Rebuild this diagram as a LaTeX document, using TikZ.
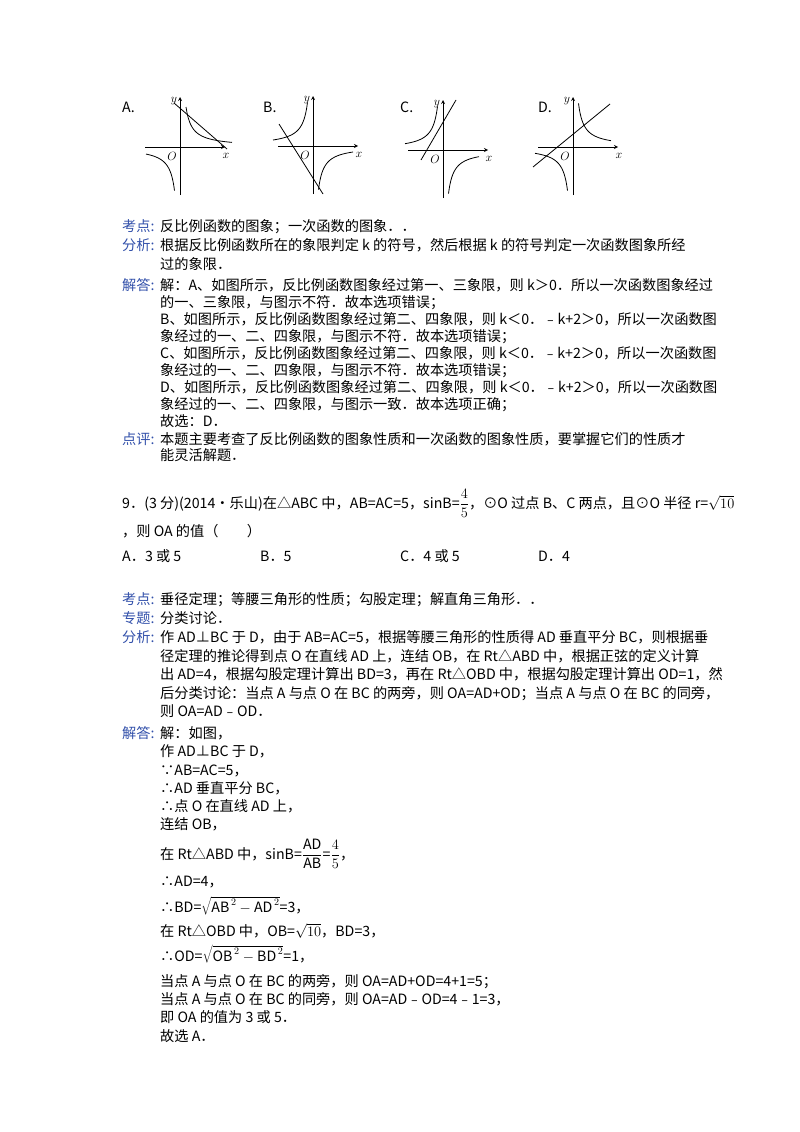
\documentclass[tikz,border=0pt]{standalone}
\usepackage{fontspec}
\setmainfont{Noto Sans CJK SC}
\definecolor{lab}{RGB}{50,80,170}
\begin{document}
\begin{tikzpicture}[x=1pt,y=-1pt,
 t/.style={anchor=base west,inner sep=0pt,font=\fontsize{14.2}{16}\selectfont},
 lb/.style={t,text=lab},
 ax/.style={line width=0.8pt,->,>=stealth},
 cv/.style={line width=0.8pt},
 gl/.style={font=\fontsize{13}{13}\selectfont,inner sep=0pt}]
\useasboundingbox (0,0) rectangle (800,1132);
% graphs
\foreach \n/\ox/\oy/\lx in {A/180/147/122,B/313/146/263,C/443/150/400,D/573/147/538}{
 \node[t] (L\n) at (\lx,112) {\n.};
 \begin{scope}[shift={(\ox,\oy)}]
 \draw[ax] (-35,0) -- (45,0);
 \node[gl] (x\n) at (46,9) {$x$};
 \draw[ax] (0,48) -- (0,-50);
 \node[gl] (y\n) at (-6,-46) {$y$};
 \node[gl] (o\n) at (-8,9) {$O$};
 \end{scope}}
\begin{scope}[shift={(180,147)}]
 \draw[cv] plot[domain=6:52,samples=40,smooth] (\x,{-240/\x});
 \draw[cv] plot[domain=-34:-5.5,samples=40,smooth] (\x,{-240/\x});
 \draw[cv] (-6,-44) -- (47,2);
\end{scope}
\begin{scope}[shift={(313,146)}]
 \draw[cv] plot[domain=-40:-5.5,samples=40,smooth] (\x,{240/\x});
 \draw[cv] plot[domain=5.5:40,samples=40,smooth] (\x,{240/\x});
 \draw[cv] (-34,-22) -- (10,48);
\end{scope}
\begin{scope}[shift={(443,150)}]
 \draw[cv] plot[domain=-38:-5.5,samples=40,smooth] (\x,{240/\x});
 \draw[cv] plot[domain=5.5:36,samples=40,smooth] (\x,{240/\x});
 \draw[cv] (-22,10) -- (13,-50);
\end{scope}
\begin{scope}[shift={(573,147)}]
 \draw[cv] plot[domain=5.5:38,samples=40,smooth] (\x,{-240/\x});
 \draw[cv] plot[domain=-38:-5.5,samples=40,smooth] (\x,{-240/\x});
 \draw[cv] (-40,20) -- (37,-43);
\end{scope}
% part 1
\node[lb] (k1) at (122,231) {考点:};
\node[t] at (160,231) {反比例函数的图象；一次函数的图象．．};
\node[lb] (f1) at (122,250) {分析:};
\node[t] at (160,250) {根据反比例函数所在的象限判定 k 的符号，然后根据 k 的符号判定一次函数图象所经};
\node[t] at (160,269) {过的象限．};
\node[lb] (j1) at (122,290) {解答:};
\node[t] at (160,290) {解：A、如图所示，反比例函数图象经过第一、三象限，则 k＞0．所以一次函数图象经过};
\node[t] at (160,307) {的一、三象限，与图示不符．故本选项错误；};
\node[t] at (160,324) {B、如图所示，反比例函数图象经过第二、四象限，则 k＜0．﹣k+2＞0，所以一次函数图};
\node[t] at (160,341) {象经过的一、二、四象限，与图示不符．故本选项错误；};
\node[t] at (160,358) {C、如图所示，反比例函数图象经过第二、四象限，则 k＜0．﹣k+2＞0，所以一次函数图};
\node[t] at (160,375) {象经过的一、二、四象限，与图示不符．故本选项错误；};
\node[t] at (160,392) {D、如图所示，反比例函数图象经过第二、四象限，则 k＜0．﹣k+2＞0，所以一次函数图};
\node[t] at (160,409) {象经过的一、二、四象限，与图示一致．故本选项正确；};
\node[t] at (160,426) {故选：D．};
\node[lb] at (122,444) {点评:};
\node[t] at (160,444) {本题主要考查了反比例函数的图象性质和一次函数的图象性质，要掌握它们的性质才};
\node[t] at (160,460) {能灵活解题．};
% question 9
\node[t] (q9) at (122,508) {9．(3 分)(2014•乐山)在△ABC 中，AB=AC=5，sinB=$\displaystyle\frac{4}{5}$，⊙O 过点 B、C 两点，且⊙O 半径 r=$\sqrt{10}$};
\node[t] at (122,536) {，则 OA 的值（\quad\quad）};
\node[t] at (122,561) {A．3 或 5};
\node[t] at (260,561) {B．5};
\node[t] at (400,561) {C．4 或 5};
\node[t] at (538,561) {D．4};
\node[lb] at (122,604) {考点:};
\node[t] at (160,604) {垂径定理；等腰三角形的性质；勾股定理；解直角三角形．．};
\node[lb] at (122,623) {专题:};
\node[t] at (160,623) {分类讨论．};
\node[lb] at (122,642) {分析:};
\node[t] at (160,642) {作 AD⊥BC 于 D，由于 AB=AC=5，根据等腰三角形的性质得 AD 垂直平分 BC，则根据垂};
\node[t] at (160,661) {径定理的推论得到点 O 在直线 AD 上，连结 OB，在 Rt△ABD 中，根据正弦的定义计算};
\node[t] at (160,679) {出 AD=4，根据勾股定理计算出 BD=3，再在 Rt△OBD 中，根据勾股定理计算出 OD=1，然};
\node[t] at (160,698) {后分类讨论：当点 A 与点 O 在 BC 的两旁，则 OA=AD+OD；当点 A 与点 O 在 BC 的同旁，};
\node[t] at (160,716) {则 OA=AD﹣OD．};
\node[lb] at (122,738) {解答:};
\node[t] at (160,738) {解：如图，};
\node[t] at (160,756) {作 AD⊥BC 于 D，};
\node[t] at (160,775) {∵AB=AC=5，};
\node[t] at (160,793) {∴AD 垂直平分 BC，};
\node[t] at (160,811) {∴点 O 在直线 AD 上，};
\node[t] at (160,829) {连结 OB，};
\node[t] at (160,859) {在 Rt△ABD 中，sinB=$\displaystyle\frac{\mathrm{AD}}{\mathrm{AB}}$=$\displaystyle\frac{4}{5}$，};
\node[t] at (160,886) {∴AD=4，};
\node[t] at (160,912) {∴BD=$\sqrt{\mathrm{AB}^{\,2}-\mathrm{AD}^{\,2}}$=3，};
\node[t] at (160,936) {在 Rt△OBD 中，OB=$\sqrt{10}$，BD=3，};
\node[t] at (160,961) {∴OD=$\sqrt{\mathrm{OB}^{\,2}-\mathrm{BD}^{\,2}}$=1，};
\node[t] at (160,986) {当点 A 与点 O 在 BC 的两旁，则 OA=AD+OD=4+1=5；};
\node[t] at (160,1004) {当点 A 与点 O 在 BC 的同旁，则 OA=AD﹣OD=4﹣1=3，};
\node[t] at (160,1022) {即 OA 的值为 3 或 5．};
\node[t] at (160,1041) {故选 A．};
\end{tikzpicture}
\end{document}
